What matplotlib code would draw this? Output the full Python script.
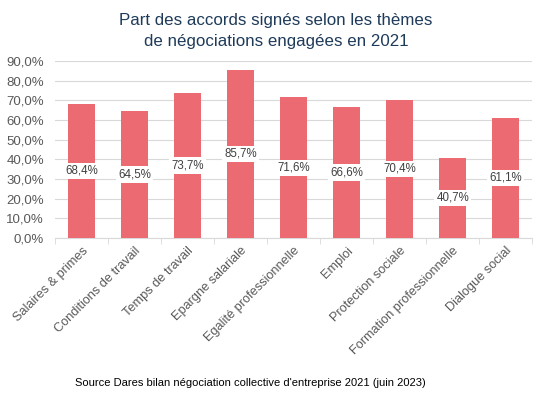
import matplotlib
matplotlib.use("Agg")
import matplotlib.pyplot as plt
from matplotlib.ticker import FuncFormatter, FixedLocator, NullFormatter
import numpy as np

categories = ["Salaires & primes", "Conditions de travail", "Temps de travail",
              "Epargne salariale", "Egalité professionnelle", "Emploi",
              "Protection sociale", "Formation professionnelle", "Dialogue social"]
values = [68.4, 64.5, 73.7, 85.7, 71.6, 66.6, 70.4, 40.7, 61.1]
title = "Part des accords signés selon les thèmes\nde négociations engagées en 2021"
source = "Source Dares bilan négociation collective d'entreprise 2021 (juin 2023)"

plt.rcParams['font.family'] = ['Liberation Sans', 'DejaVu Sans']

fig = plt.figure(figsize=(5.52, 4.13), dpi=100)
ax = fig.add_axes([0.100, 0.424, 0.864, 0.428])

x = np.arange(len(categories))
bars = ax.bar(x, values, width=0.51, color="#EC6A72", zorder=3)

for xi, v in zip(x, values):
    ax.text(xi, v / 2, f"{v:.1f}%".replace(".", ","), ha="center", va="center",
            fontsize=8.3, color="#404040", zorder=4,
            bbox=dict(boxstyle="square,pad=0.18", fc="white", ec="none"))

ax.set_ylim(0, 90)
ax.set_xlim(-0.5, len(categories) - 0.5)
ax.set_yticks(np.arange(0, 91, 10))
ax.yaxis.set_major_formatter(FuncFormatter(lambda v, p: f"{v:.1f}%".replace(".", ",")))
ax.grid(axis="y", color="#D9D9D9", linewidth=0.8, zorder=0)
ax.set_axisbelow(True)

ax.set_xticks(x)
ax.set_xticklabels(categories, rotation=45, ha="right", rotation_mode="anchor",
                   fontsize=9.2, color="#595959")
ax.tick_params(axis="x", length=0, pad=5)
ax.xaxis.set_minor_locator(FixedLocator(np.arange(-0.5, len(categories), 1)))
ax.xaxis.set_minor_formatter(NullFormatter())
ax.tick_params(axis="x", which="minor", length=4, color="#D9D9D9")
ax.tick_params(axis="y", length=0, labelsize=9.5, labelcolor="#595959", pad=8)

for s in ["top", "right", "left"]:
    ax.spines[s].set_visible(False)
ax.spines["bottom"].set_color("#D9D9D9")

fig.text(0.5, 0.968, title, ha="center", va="top", fontsize=12.2,
         color="#1F3B5A", linespacing=1.45)
fig.text(0.453, 0.072, source, ha="center", va="center", fontsize=8, color="#000000")

fig.savefig("out.png", dpi=100)
